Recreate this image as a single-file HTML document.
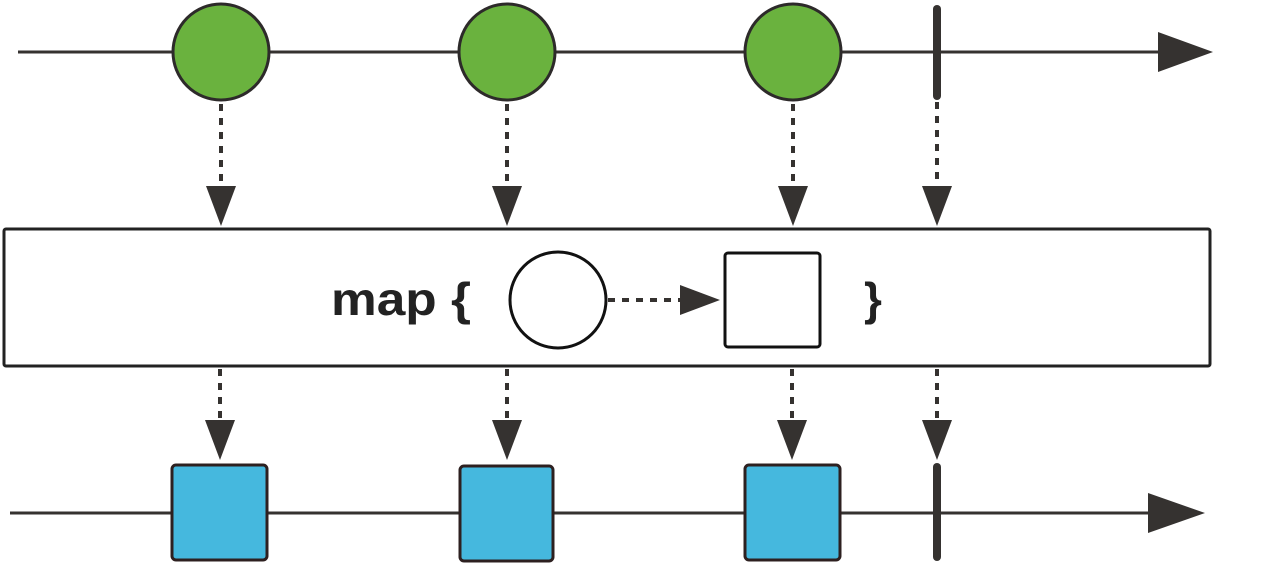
<!DOCTYPE html>
<html><head><style>html,body{margin:0;padding:0;background:#fff;}svg{display:block}</style></head>
<body>
<svg width="1280" height="566" viewBox="0 0 1280 566" xmlns="http://www.w3.org/2000/svg">
<g stroke="#353230" fill="none">
  <line x1="18" y1="52" x2="1165" y2="52" stroke-width="3"/>
  <line x1="10" y1="513" x2="1155" y2="513" stroke-width="3"/>
</g>
<g fill="#353230">
  <polygon points="1158,32 1213,52 1158,72"/>
  <polygon points="1148,493 1205,513 1148,533"/>
</g>
<g stroke="#353230" stroke-width="4" stroke-dasharray="7,7" fill="none">
  <line x1="221" y1="104" x2="221" y2="188"/>
  <line x1="507" y1="104" x2="507" y2="188"/>
  <line x1="793" y1="104" x2="793" y2="188"/>
  <line x1="937" y1="102" x2="937" y2="188"/>
  <line x1="220" y1="369" x2="220" y2="422"/>
  <line x1="507" y1="369" x2="507" y2="422"/>
  <line x1="792" y1="369" x2="792" y2="422"/>
  <line x1="937" y1="369" x2="937" y2="422"/>
</g>
<g fill="#353230">
  <polygon points="206,186 236,186 221,226"/>
  <polygon points="492,186 522,186 507,226"/>
  <polygon points="778,186 808,186 793,226"/>
  <polygon points="922,186 952,186 937,226"/>
  <polygon points="205,420 235,420 220,460"/>
  <polygon points="492,420 522,420 507,460"/>
  <polygon points="777,420 807,420 792,460"/>
  <polygon points="922,420 952,420 937,460"/>
</g>
<g fill="#6ab23e" stroke="#2d2a2a" stroke-width="3">
  <ellipse cx="221" cy="52" rx="48" ry="48"/>
  <ellipse cx="507" cy="52" rx="48" ry="48"/>
  <ellipse cx="793" cy="52" rx="48" ry="48"/>
</g>
<g stroke="#353230" stroke-width="8" stroke-linecap="round">
  <line x1="937" y1="9" x2="937" y2="96"/>
  <line x1="937" y1="467" x2="937" y2="557"/>
</g>
<rect x="4" y="229" width="1206" height="137" rx="2" fill="#fff" stroke="#222" stroke-width="3"/>
<text x="331" y="315" font-family="Liberation Sans, sans-serif" font-weight="bold" font-size="46" fill="#222" textLength="140" lengthAdjust="spacingAndGlyphs">map {</text>
<text x="864" y="315" font-family="Liberation Sans, sans-serif" font-weight="bold" font-size="46" fill="#222">}</text>
<ellipse cx="558" cy="300" rx="48" ry="48" fill="#fff" stroke="#111" stroke-width="3"/>
<line x1="608" y1="300" x2="682" y2="300" stroke="#353230" stroke-width="4" stroke-dasharray="7,7"/>
<polygon points="680,285 720,300 680,315" fill="#353230"/>
<rect x="725" y="253" width="95" height="94" rx="3" fill="#fff" stroke="#111" stroke-width="3"/>
<g fill="#45b8de" stroke="#2d2020" stroke-width="3">
  <rect x="172" y="465" width="95" height="95" rx="4"/>
  <rect x="460" y="466" width="93" height="95" rx="4"/>
  <rect x="745" y="465" width="95" height="95" rx="4"/>
</g>
</svg>
</body></html>
